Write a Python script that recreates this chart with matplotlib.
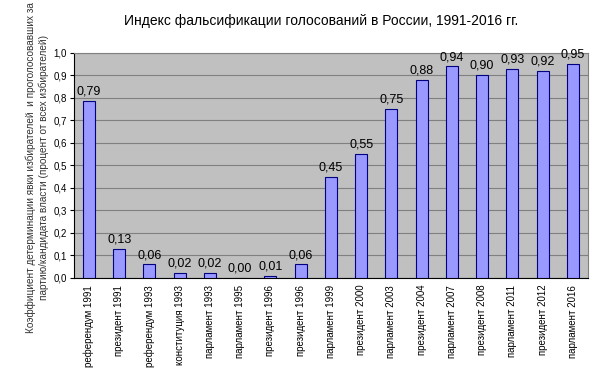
import matplotlib
matplotlib.use("Agg")
import matplotlib.pyplot as plt
import numpy as np

plt.rcParams["font.family"] = ["Liberation Sans", "DejaVu Sans"]

categories = [
    "референдум 1991", "президент 1991", "референдум 1993", "конституция 1993",
    "парламент 1993", "парламент 1995", "президент 1996", "президент 1996",
    "парламент 1999", "президент 2000", "парламент 2003", "президент 2004",
    "парламент 2007", "президент 2008", "парламент 2011", "президент 2012",
    "парламент 2016",
]
values = [0.785, 0.13, 0.06, 0.02, 0.02, 0.0, 0.01, 0.06,
          0.45, 0.55, 0.75, 0.88, 0.94, 0.90, 0.93, 0.92, 0.95]
labels = ["0,79", "0,13", "0,06", "0,02", "0,02", "0,00", "0,01", "0,06",
          "0,45", "0,55", "0,75", "0,88", "0,94", "0,90", "0,93", "0,92", "0,95"]
yticks = [0.0, 0.1, 0.2, 0.3, 0.4, 0.5, 0.6, 0.7, 0.8, 0.9, 1.0]

fig = plt.figure(figsize=(6, 3.75), dpi=100)
ax = fig.add_axes([0.123, 0.259, 0.857, 0.6])
ax.set_facecolor("#c0c0c0")

x = np.arange(len(categories))
ax.bar(x, values, width=0.4, color="#9999ff", edgecolor="#000080", linewidth=0.8, zorder=3)
for xi, v, lab in zip(x, values, labels):
    ax.text(xi, v + 0.015, lab, ha="center", va="bottom", fontsize=9, zorder=4)

ax.set_xlim(-0.5, len(categories) - 0.5)
ax.set_ylim(0, 1.0)
ax.set_yticks(yticks)
ax.set_yticklabels([f"{t:.1f}".replace(".", ",") for t in yticks], fontsize=7)
ax.set_xticks(x)
ax.set_xticklabels(categories, rotation=90, fontsize=7)
ax.tick_params(axis="x", length=0, pad=5)
ax.tick_params(axis="y", length=3, pad=2)
ax.yaxis.grid(True, color="#808080", linewidth=0.8, zorder=0)
ax.set_axisbelow(True)
for s in ["top", "right"]:
    ax.spines[s].set_color("#808080")
    ax.spines[s].set_linewidth(0.8)
ax.spines["left"].set_color("black")
ax.spines["bottom"].set_color("black")

fig.text(0.535, 0.945, "Индекс фальсификации голосований в России, 1991-2016 гг.",
         ha="center", va="center", fontsize=10)
fig.text(0.062, 0.552,
         "Коэффициент детерминации явки избирателей  и проголосовавших за\n"
         "партию/кандидата власти (процент от всех избирателей)",
         rotation=90, ha="center", va="center", fontsize=7.2, color="#333333",
         multialignment="center")

fig.savefig("out.png", dpi=100)
